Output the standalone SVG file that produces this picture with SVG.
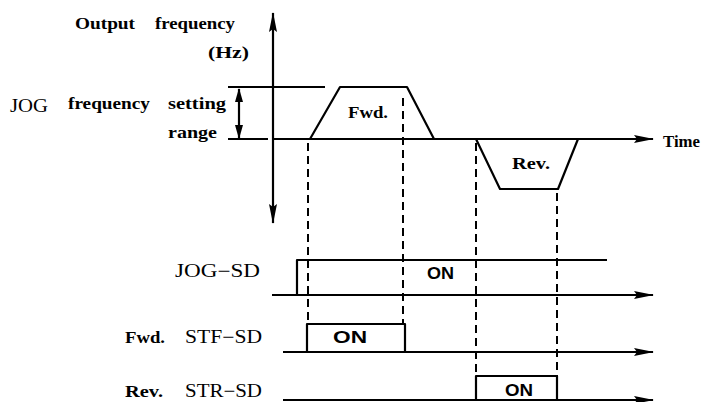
<svg xmlns="http://www.w3.org/2000/svg" width="706" height="402" viewBox="0 0 706 402">
<defs>
<marker id="ah" viewBox="0 0 20 8" refX="19" refY="4" markerWidth="20" markerHeight="8" markerUnits="userSpaceOnUse" orient="auto-start-reverse">
<path d="M0,0 L20,4 L0,8 L3,4 Z" fill="#000"/>
</marker>
<marker id="ahs" viewBox="0 0 14 8" refX="13" refY="4" markerWidth="14" markerHeight="8" markerUnits="userSpaceOnUse" orient="auto-start-reverse">
<path d="M0,0 L14,4 L0,8 Z" fill="#000"/>
</marker>
</defs>
<style>
.ln{fill:none;stroke:#000;stroke-width:2.2;stroke-linejoin:round}
.ds{fill:none;stroke:#000;stroke-width:2;stroke-dasharray:8 5}
.t{font-family:"Liberation Serif","DejaVu Serif",serif;font-size:17.5px;font-weight:bold;fill:#000}
.tr{font-family:"Liberation Serif","DejaVu Serif",serif;font-size:18px;fill:#000}
.on{font-family:"Liberation Sans","DejaVu Sans",sans-serif;font-size:16px;font-weight:bold;fill:#000}
</style>
<rect width="706" height="402" fill="#fff"/>
<g id="labels">
<text class="t" x="75" y="29" textLength="60" lengthAdjust="spacingAndGlyphs">Output</text>
<text class="t" x="155" y="29" textLength="80" lengthAdjust="spacingAndGlyphs">frequency</text>
<text class="t" x="208" y="58" textLength="41" lengthAdjust="spacingAndGlyphs">(Hz)</text>
<text class="tr" x="10" y="112" textLength="38" lengthAdjust="spacingAndGlyphs">JOG</text>
<text class="t" x="68" y="109" textLength="82" lengthAdjust="spacingAndGlyphs">frequency</text>
<text class="t" x="168" y="109" textLength="58" lengthAdjust="spacingAndGlyphs">setting</text>
<text class="t" x="168" y="138" textLength="49" lengthAdjust="spacingAndGlyphs">range</text>
<text class="t" x="348" y="118" textLength="40" lengthAdjust="spacingAndGlyphs">Fwd.</text>
<text class="t" x="512" y="169" textLength="38" lengthAdjust="spacingAndGlyphs">Rev.</text>
<text class="t" x="663" y="147" textLength="37" lengthAdjust="spacingAndGlyphs">Time</text>
<text class="tr" x="175" y="277" textLength="85" lengthAdjust="spacingAndGlyphs">JOG−SD</text>
<text class="t" x="125" y="343" textLength="40" lengthAdjust="spacingAndGlyphs">Fwd.</text>
<text class="tr" x="185" y="343" textLength="77" lengthAdjust="spacingAndGlyphs">STF−SD</text>
<text class="t" x="125" y="397" textLength="38" lengthAdjust="spacingAndGlyphs">Rev.</text>
<text class="tr" x="185" y="397" textLength="77" lengthAdjust="spacingAndGlyphs">STR−SD</text>
<text class="on" x="427" y="279" textLength="27" lengthAdjust="spacingAndGlyphs">ON</text>
<text class="on" x="333" y="343" textLength="34" lengthAdjust="spacingAndGlyphs">ON</text>
<text class="on" x="505" y="396" textLength="28" lengthAdjust="spacingAndGlyphs">ON</text>
</g>
<g id="axes">
<line class="ln" x1="273" y1="223" x2="273" y2="13" marker-start="url(#ah)" marker-end="url(#ah)"/>
<line class="ln" x1="273" y1="139" x2="653" y2="139" marker-end="url(#ah)"/>
<line class="ln" x1="228" y1="139" x2="268" y2="139"/>
<line class="ln" x1="228" y1="87" x2="325" y2="87"/>
<line class="ln" x1="239" y1="89" x2="239" y2="138" marker-start="url(#ahs)" marker-end="url(#ahs)"/>
</g>
<g id="profile">
<polyline class="ln" points="310,139 340,87 407,87 434,139"/>
<polyline class="ln" points="476,139 500,189 558,189 578,139"/>
</g>
<g id="signals">
<line class="ln" x1="272" y1="295" x2="653" y2="295" marker-end="url(#ah)"/>
<polyline class="ln" points="297,295 297,260 607,260"/>
<line class="ln" x1="283" y1="352" x2="653" y2="352" marker-end="url(#ah)"/>
<polyline class="ln" points="307,352 307,324 405,324 405,352"/>
<line class="ln" x1="283" y1="400" x2="653" y2="400" marker-end="url(#ah)"/>
<polyline class="ln" points="476,400 476,376 557,376 557,400"/>
</g>
<g id="connectors">
<line class="ds" x1="308" y1="143" x2="308" y2="324"/>
<line class="ds" x1="403" y1="98" x2="403" y2="324"/>
<line class="ds" x1="476" y1="143" x2="476" y2="376"/>
<line class="ds" x1="557" y1="193" x2="557" y2="376"/>
</g>
</svg>
